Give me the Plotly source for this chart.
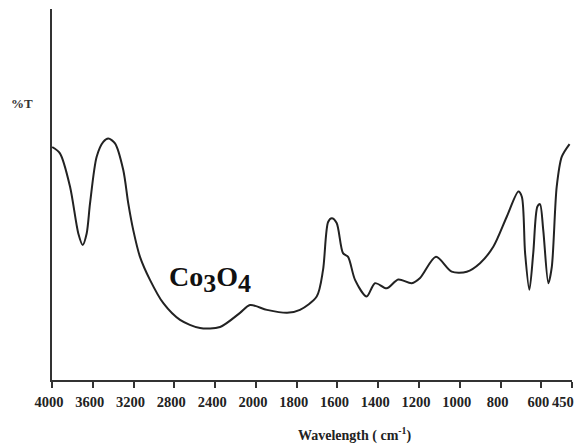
import plotly.graph_objects as go

# Data (wavenumber cm^-1, %T arbitrary 0-100 scale)
wavenumber = [3998, 3922, 3823, 3742, 3699, 3660, 3627, 3562, 3497, 3448, 3382, 3301,
              3252, 3203, 3137, 3039, 2908, 2744, 2548, 2352, 2156, 2058,
              1946, 1847, 1784, 1702, 1671, 1646, 1628, 1604, 1573, 1548, 1514,
              1457, 1416, 1359, 1302, 1236, 1195, 1117, 1040, 966, 901, 836,
              770, 713, 696, 680, 659, 640, 620, 607, 591, 566, 549, 525, 500, 462]
transmittance = [62.8, 61.1, 52.1, 39.5, 36.4, 39.5, 47.6, 60.2, 64.2, 65.1, 63.8, 56.6,
                 47.6, 40.4, 33.2, 27.0, 20.7, 16.2, 14.0, 14.3, 18.1, 20.2,
                 18.9, 18.1, 18.9, 22.5, 29.6, 42.6, 43.6, 42.3, 34.2, 33.2, 27.0,
                 22.5, 26.1, 24.7, 27.1, 26.1, 27.5, 33.2, 29.2, 29.2, 31.5, 35.9,
                 44.0, 50.8, 49.4, 34.2, 24.3, 34.2, 46.7, 47.4, 40.4, 26.1, 30.5,
                 52.1, 60.2, 63.6]

tick_values = [4000, 3600, 3200, 2800, 2400, 2000, 1800, 1600, 1400, 1200, 1000, 800, 600, 450]
tick_labels = ["4000", "3600", "3200", "2800", "2400", "2000", "1800", "1600",
               "1400", "1200", "1000", "800", "600", "450"]


def axis_pos(w):
    # FTIR axis with scale change at 2000 cm^-1
    if w >= 2000:
        return (4000 - w) / 400.0
    return 5 + (2000 - w) / 200.0


x_pos = [axis_pos(w) for w in wavenumber]
tick_pos = [axis_pos(w) for w in tick_values]
# last label sits at the figure edge; it is drawn as a right-anchored annotation
axis_text = tick_labels[:-1] + [""]

tick_font = dict(family="Liberation Serif", size=14.5, color="#222222", weight="bold")

fig = go.Figure()
fig.add_trace(go.Scatter(
    x=x_pos, y=transmittance, mode="lines",
    line=dict(color="#222222", width=2, shape="spline", smoothing=0.8),
    hoverinfo="skip", showlegend=False,
))

fig.update_layout(
    width=574, height=438,
    margin=dict(l=44, r=10, t=1, b=66),
    paper_bgcolor="white", plot_bgcolor="white",
    font=dict(family="Liberation Serif", color="#222222"),
    xaxis=dict(
        range=[0, axis_pos(450)], tickvals=tick_pos, ticktext=axis_text,
        showgrid=False, zeroline=False, showline=True, linecolor="#333333", linewidth=2,
        ticks="outside", ticklen=6, tickwidth=1.5, tickcolor="#333333",
        ticklabeloverflow="allow", ticklabelstandoff=2, ticklabelshift=-3,
        tickfont=tick_font,
    ),
    yaxis=dict(
        range=[0, 100], showgrid=False, zeroline=False, showline=True,
        linecolor="#333333", linewidth=2, showticklabels=False, ticks="",
    ),
    annotations=[
        dict(text="<b>%T</b>", xref="paper", yref="paper", x=-0.058, y=0.745,
             xanchor="center", yanchor="middle", showarrow=False,
             font=dict(family="Liberation Serif", size=13, color="#333333")),
        dict(text="<b>Wavelength ( cm<sup>-1</sup>)</b>", xref="paper", yref="paper",
             x=0.583, y=-0.148, xanchor="center", yanchor="middle", showarrow=False,
             font=dict(family="Liberation Serif", size=14, color="#222222")),
        dict(text=tick_labels[-1], xref="x", yref="paper", x=tick_pos[-1], y=-0.059,
             xanchor="right", yanchor="middle", xshift=4, showarrow=False,
             font=tick_font),
        dict(text="Co<sub><span style='font-size:26px'>3</span></sub>O"
                  "<sub><span style='font-size:26px'>4</span></sub>",
             xref="x", yref="y",
             x=axis_pos(2872), y=27.0, xanchor="left", yanchor="middle", showarrow=False,
             font=dict(family="Liberation Serif", size=28, color="#111111", weight=600)),
    ],
)

fig.write_html("out.html")
